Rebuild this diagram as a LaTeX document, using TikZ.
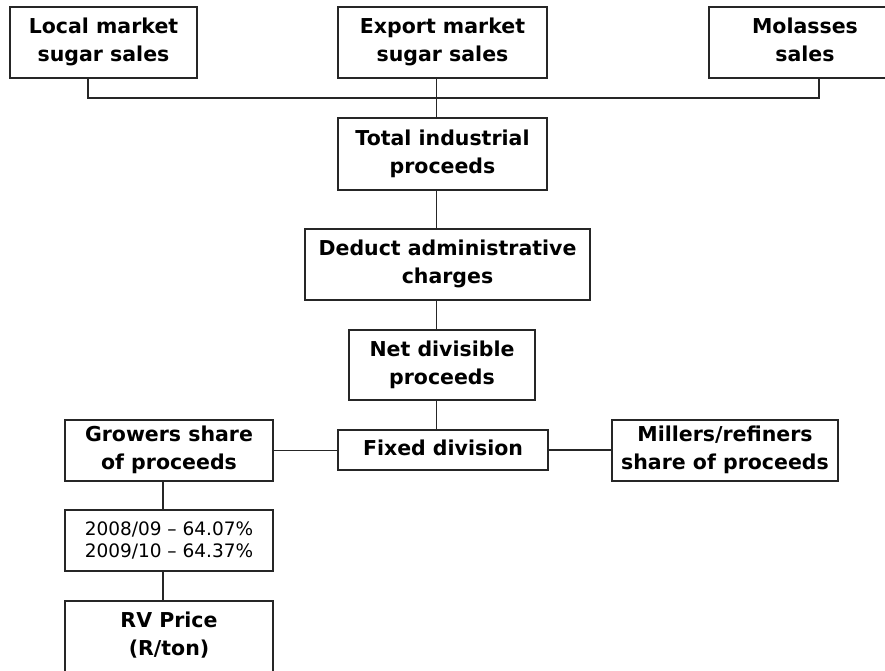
\documentclass[tikz,border=0pt]{standalone}
\usepackage{fontspec}
\setmainfont{DejaVu Sans}
\newcommand\bxstrut{\rule[-5pt]{0pt}{21pt}}
\newcommand\smstrut{\rule{0pt}{14pt}}
\begin{document}
\begin{tikzpicture}[x=1pt,y=-1pt,
  frame/.style={draw=black!85, line width=1.5pt, rectangle, inner sep=0pt, align=center},
  box/.style={frame, font=\fontsize{20.5}{28}\selectfont\bfseries,
    execute at begin node=\bxstrut, execute at end node=\bxstrut},
  smallbox/.style={frame, font=\fontsize{18.5}{22}\selectfont,
    execute at begin node=\smstrut, execute at end node=\smstrut},
  link/.style={draw=black!85, line width=1.5pt}]
\useasboundingbox (0,0) rectangle (885,671);
\clip (0,0) rectangle (885,671);
\fill[white] (0,0) rectangle (885,671);
% top row
\node[box, minimum width=187pt, minimum height=71pt] (local) at (103.5,42.5) {Local market\\sugar sales};
\node[box, minimum width=209pt, minimum height=71pt] (export) at (442.5,42.5) {Export market\\sugar sales};
\node[box, minimum width=192pt, minimum height=71pt] (molasses) at (805,42.5) {Molasses\\sales};
% spine
\node[box, minimum width=209pt, minimum height=72pt] (total) at (442.5,154) {Total industrial\\proceeds};
\node[box, minimum width=285pt, minimum height=71pt] (deduct) at (447.5,264.5) {Deduct administrative\\charges};
\node[box, minimum width=186pt, minimum height=70pt] (net) at (442,365) {Net divisible\\proceeds};
\node[box, minimum width=210pt, minimum height=40pt] (fixed) at (443,450) {Fixed division};
\node[box, minimum width=226pt, minimum height=61pt] (millers) at (725,450.5) {Millers/refiners\\share of proceeds};
% left column
\node[box, minimum width=208pt, minimum height=61pt] (growers) at (169,450.5) {Growers share\\of proceeds};
\node[smallbox, minimum width=208pt, minimum height=61pt] (pct) at (169,540.5) {2008/09 -- 64.07\%\\2009/10 -- 64.37\%};
\node[box, minimum width=208pt, minimum height=71pt] (rv) at (169,636.5) {RV Price\\(R/ton)};
% connector coordinates
\coordinate (busL) at (88,98);
\coordinate (busR) at (819,98);
\coordinate (spine) at (436.5,0);
\coordinate (lcol) at (163,0);
% connectors
\draw[link] (busL |- local.south) -- (busL) -- (busR) -- (busR |- molasses.south);
\draw[link] (spine |- export.south) -- (spine |- total.north);
\draw[link] (spine |- total.south) -- (spine |- deduct.north);
\draw[link] (spine |- deduct.south) -- (spine |- net.north);
\draw[link] (spine |- net.south) -- (spine |- fixed.north);
\draw[link] (growers.east) -- (growers.east -| fixed.west);
\draw[link] (fixed.east) -- (fixed.east -| millers.west);
\draw[link] (lcol |- growers.south) -- (lcol |- pct.north);
\draw[link] (lcol |- pct.south) -- (lcol |- rv.north);
\end{tikzpicture}
\end{document}
